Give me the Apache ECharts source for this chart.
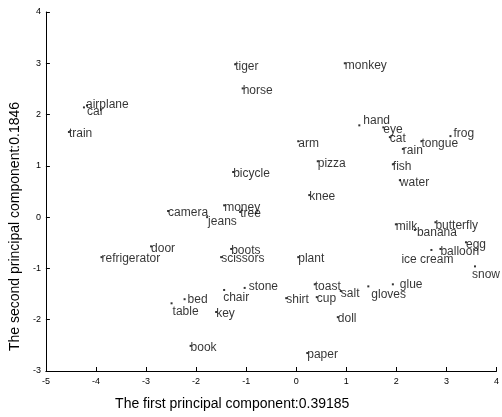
<!DOCTYPE html>
<html>
<head>
<meta charset="utf-8">
<script src="https://cdn.jsdelivr.net/npm/echarts@6/dist/echarts.min.js"></script>
<style>
html,body{margin:0;padding:0;background:#fff;}
#chart{width:502px;height:417px;}
</style>
</head>
<body>
<div id="chart"></div>
<script>
// Words and their coordinates on the first two principal components
const words = ['tiger','horse','monkey','airplane','car','train','hand','eye','cat','rain','tongue','frog',
  'arm','pizza','fish','water','knee','bicycle','camera','money','tree','jeans','milk','banana','butterfly',
  'egg','balloon','ice cream','snow','plant','door','refrigerator','boots','scissors','glue','gloves','salt',
  'toast','cup','shirt','doll','paper','stone','chair','bed','table','key','book'];
const pc1 = [-1.22,-1.07,0.97,-4.24,-4.18,-4.54,1.26,1.74,1.87,2.13,2.50,3.08,
  0.04,0.43,1.93,2.07,0.26,-1.26,-2.56,-1.44,-1.12,-1.78,1.99,2.37,2.78,
  3.39,2.88,2.70,3.57,0.04,-2.90,-3.89,-1.30,-1.50,1.93,1.44,0.89,
  0.37,0.41,-0.20,0.83,0.22,-1.03,-1.44,-2.23,-2.49,-1.60,-2.11];
const pc2 = [2.98,2.51,3.00,2.14,2.18,1.66,1.79,1.75,1.56,1.33,1.48,1.58,
  1.48,1.09,1.03,0.72,0.43,0.88,0.12,0.23,0.10,0.00,-0.14,-0.25,-0.10,
  -0.49,-0.62,-0.64,-0.96,-0.78,-0.57,-0.78,-0.62,-0.78,-1.31,-1.35,-1.44,
  -1.31,-1.56,-1.58,-1.95,-2.65,-1.38,-1.42,-1.60,-1.68,-1.85,-2.51];
const xTicks = [-5,-4,-3,-2,-1,0,1,2,3,4];
const yTicks = [-3,-2,-1,0,1,2,3,4];
const xTitle = 'The first principal component:0.39185';
const yTitle = 'The second principal component:0.1846';

// label nudges (pixels) for labels drawn away from their point
const nudge = {
  'airplane':[2,-3],'car':[0,6],'hand':[4,-5],'frog':[3,-2],'jeans':[1,5],'banana':[2,3],
  'butterfly':[0,3],'balloon':[0,3],'ice cream':[-30,10],'snow':[-3,8],'glue':[7,0],
  'gloves':[3,8],'salt':[0,3],'toast':[0,2],'stone':[4,-1],'chair':[-1,8],'bed':[3,0],'table':[1,8]
};
const SYM = 2;

const data = words.map((w,i)=>{
  const n = nudge[w] || [0,2];
  return {
    name:w,
    value:[pc1[i],pc2[i]],
    label:{position:[SYM/2 + n[0], SYM/2 + n[1]]}
  };
});

const chart = echarts.init(document.getElementById('chart'));
const font = 'Liberation Sans, Arial, Helvetica, sans-serif';
chart.setOption({
  animation:false,
  backgroundColor:'#fff',
  grid:{left:45,right:1,top:12,bottom:46},
  xAxis:{
    type:'value',min:xTicks[0],max:xTicks[xTicks.length-1],interval:1,
    name:xTitle,nameLocation:'middle',nameGap:26,
    nameTextStyle:{fontFamily:font,fontSize:14,color:'#000',padding:[0,78,0,0]},
    axisLine:{show:true,onZero:false,lineStyle:{color:'#000',width:1}},
    axisTick:{show:true,inside:true,length:4,lineStyle:{color:'#000'}},
    axisLabel:{fontFamily:font,fontSize:9,color:'#000',margin:6},
    splitLine:{show:false}
  },
  yAxis:{
    type:'value',min:yTicks[0],max:yTicks[yTicks.length-1],interval:1,
    name:yTitle,nameLocation:'middle',nameGap:19,
    nameTextStyle:{fontFamily:font,fontSize:14,color:'#000',padding:[0,70,0,0]},
    axisLine:{show:true,onZero:false,lineStyle:{color:'#000',width:1}},
    axisTick:{show:true,inside:true,length:4,lineStyle:{color:'#000'}},
    axisLabel:{fontFamily:font,fontSize:9,color:'#000',margin:5},
    splitLine:{show:false}
  },
  series:[{
    type:'scatter',
    symbol:'rect',symbolSize:SYM,
    itemStyle:{color:'#000'},
    data:data,
    label:{
      show:true,align:'left',verticalAlign:'middle',
      formatter:p=>p.name,
      fontFamily:font,fontSize:12,color:'#000'
    },
    labelLayout:{hideOverlap:false},
    emphasis:{disabled:true}
  }]
});
</script>
</body>
</html>
